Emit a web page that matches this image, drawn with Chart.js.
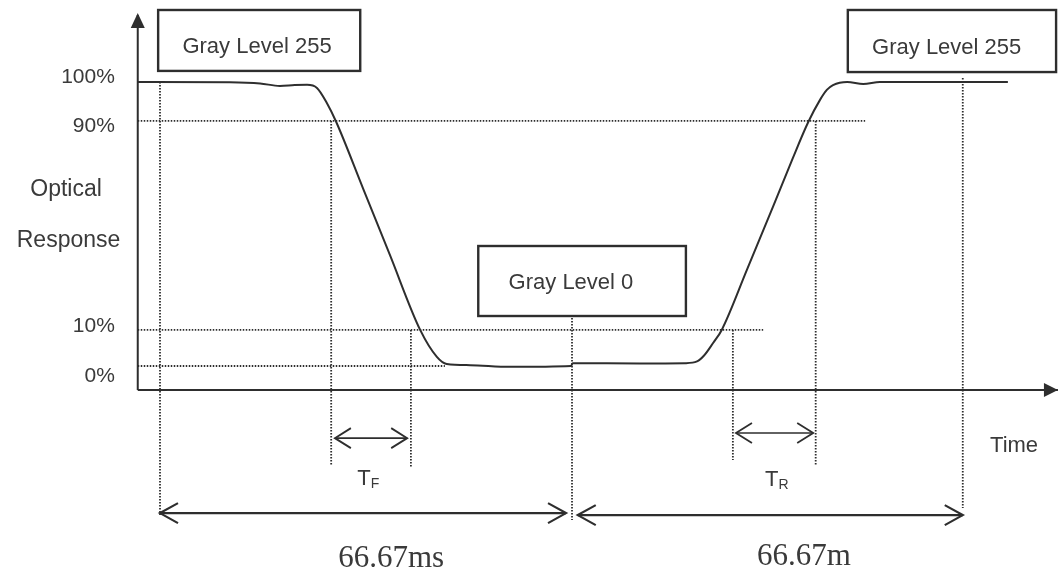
<!DOCTYPE html>
<html>
<head>
<meta charset="utf-8">
<title>Optical response time</title>
<style>
  html, body { margin: 0; padding: 0; background: #fff; }
  #wrap { width: 1058px; height: 578px; }
</style>
</head>
<body>
<div id="wrap"><canvas id="chart" width="1058" height="578"></canvas></div>
<script src="https://cdn.jsdelivr.net/npm/chart.js@4.4.0/dist/chart.umd.min.js"></script>
<script>
// optical response curve (time in ms, response in %)
const timeMs = [-3.6, 11.3, 16.2, 19.4, 21.8, 23.8, 25.4, 27.0, 28.5, 32.9, 37.2, 42.1, 44.8, 46.4, 50.2, 56.6, 66.5,
  66.8, 77.7, 85.0, 86.9, 88.0, 89.5, 90.9, 95.0, 99.2, 102.4, 104.9, 106.8, 107.9, 108.9, 111.2, 113.8, 116.5, 137.2];
const response = [100, 99.9, 99.5, 98.6, 98.9, 99.0, 97.9, 92.6, 86.0, 62.3, 39.1, 12.7, 3.2, 0.7, 0.3, -0.3, 0,
  1.0, 0.9, 1.0, 1.6, 3.6, 8.1, 12.7, 34.0, 56.1, 73.2, 85.9, 93.7, 97.2, 98.9, 100, 99.3, 100, 100];

// axes
const axisTime = -3.6; // where the response axis stands
const axisLevel = -8.45; // where the time axis runs
const axisTop = 123.6;
const axisEnd = 145.3;

// level guide lines
const levelNames = ['100%', '90%', '10%', '0%'];
const levelValues = [100, 86.3, 12.7, 0];
const levelLineEnds = [null, 114.1, 97.6, 46.1];
const levelLabelValues = [101.8, 84.3, 13.9, -3.7];

// vertical guide lines
const markerTimes = [0, 27.7, 40.6, 66.67, 92.7, 106.1, 129.9];
const markerTops = [100, 86.3, 12.7, 16.9, 12.7, 86.3, 101.4];
const markerBottoms = [-52.5, -34.9, -35.9, -54.2, -33.1, -34.9, -50];

// dimension arrows
const spanNames = ['T|F', 'T|R', '66.67ms', '66.67m'];
const spanStarts = [28.3, 93.2, 0, 67.6];
const spanEnds = [40.0, 105.7, 65.7, 129.9];
const spanLevels = [-25.4, -23.6, -51.8, -52.5];
const spanLabelTimes = [33.7, 99.8, 37.4, 104.2];
const spanLabelLevels = [-39.8, -40.1, -67.9, -67.3];

// gray level boxes
const boxNames = ['Gray Level 255', 'Gray Level 0', 'Gray Level 255'];
const boxStarts = [-0.3, 51.5, 111.3];
const boxEnds = [32.4, 85.1, 145.0];
const boxTops = [125.35, 42.25, 125.35];
const boxBottoms = [103.9, 17.6, 103.5];
const boxLabelTimes = [15.7, 66.5, 127.3];
const boxLabelLevels = [112.3, 29.2, 112.0];

const ink = '#2e2e2e';
const textInk = '#3a3a3a';
const sans = '"Liberation Sans", Arial, sans-serif';
const serif = '"Liberation Serif", "Times New Roman", serif';

function seg(x1, y1, x2, y2, width, dash) {
  return {
    data: [{ x: x1, y: y1 }, { x: x2, y: y2 }],
    showLine: true,
    borderColor: ink,
    borderWidth: width,
    borderDash: dash || [],
    pointRadius: 0,
    tension: 0
  };
}

const datasets = [];
datasets.push({
  data: timeMs.map((t, i) => ({ x: t, y: response[i] })),
  showLine: true,
  borderColor: ink,
  borderWidth: 2,
  pointRadius: 0,
  cubicInterpolationMode: 'monotone'
});
datasets.push(seg(axisTime, axisLevel, axisTime, axisTop, 2));
datasets.push(seg(axisTime, axisLevel, axisEnd, axisLevel, 2));
levelValues.forEach((v, i) => {
  if (levelLineEnds[i] !== null) datasets.push(seg(axisTime, v, levelLineEnds[i], v, 1.8, [1.5, 1.5]));
});
markerTimes.forEach((t, i) => {
  datasets.push(seg(t, markerTops[i], t, markerBottoms[i], 1.8, [1.5, 1.5]));
});
spanStarts.forEach((s, i) => {
  datasets.push(seg(s, spanLevels[i], spanEnds[i], spanLevels[i], i < 2 ? 1.6 : 2.2));
});

function chevron(ctx, px, py, dir, len, half) {
  ctx.beginPath();
  ctx.moveTo(px - dir * len, py - half);
  ctx.lineTo(px, py);
  ctx.lineTo(px - dir * len, py + half);
  ctx.stroke();
}

const diagramPlugin = {
  id: 'diagram',
  afterDatasetsDraw(chart) {
    const { ctx } = chart;
    const X = (v) => chart.scales.x.getPixelForValue(v);
    const Y = (v) => chart.scales.y.getPixelForValue(v);
    ctx.save();

    // axis arrow heads
    ctx.fillStyle = ink;
    ctx.beginPath();
    ctx.moveTo(X(axisTime), Y(axisTop) - 2);
    ctx.lineTo(X(axisTime) - 7, Y(axisTop) + 13);
    ctx.lineTo(X(axisTime) + 7, Y(axisTop) + 13);
    ctx.closePath();
    ctx.fill();
    ctx.beginPath();
    ctx.moveTo(X(axisEnd), Y(axisLevel));
    ctx.lineTo(X(axisEnd) - 14, Y(axisLevel) - 7);
    ctx.lineTo(X(axisEnd) - 14, Y(axisLevel) + 7);
    ctx.closePath();
    ctx.fill();

    // dimension arrow heads
    ctx.strokeStyle = ink;
    spanStarts.forEach((s, i) => {
      const big = i >= 2;
      ctx.lineWidth = big ? 2.2 : 1.8;
      const len = big ? 18 : 16;
      chevron(ctx, X(s), Y(spanLevels[i]), -1, len, 10);
      chevron(ctx, X(spanEnds[i]), Y(spanLevels[i]), 1, len, 10);
    });

    // gray level boxes
    ctx.lineWidth = 2.4;
    boxNames.forEach((name, i) => {
      const x1 = X(boxStarts[i]);
      const y1 = Y(boxTops[i]);
      ctx.strokeRect(x1, y1, X(boxEnds[i]) - x1, Y(boxBottoms[i]) - y1);
      ctx.fillStyle = textInk;
      ctx.font = '22px ' + sans;
      ctx.textAlign = 'center';
      ctx.textBaseline = 'middle';
      ctx.fillText(name, X(boxLabelTimes[i]), Y(boxLabelLevels[i]));
    });

    // level labels
    ctx.fillStyle = textInk;
    ctx.font = '21px ' + sans;
    ctx.textAlign = 'right';
    ctx.textBaseline = 'middle';
    levelNames.forEach((name, i) => {
      ctx.fillText(name, X(-7.3), Y(levelLabelValues[i]));
    });

    // axis titles
    ctx.font = '23px ' + sans;
    ctx.textAlign = 'center';
    ctx.fillText('Optical', X(-15.2), Y(62.0));
    ctx.fillText('Response', X(-14.8), Y(44.0));
    ctx.font = '22px ' + sans;
    ctx.fillText('Time', X(138.2), Y(-28.2));

    // span labels
    spanNames.forEach((name, i) => {
      const cx = X(spanLabelTimes[i]);
      const cy = Y(spanLabelLevels[i]);
      if (name.indexOf('|') >= 0) {
        const parts = name.split('|');
        ctx.font = '22px ' + sans;
        const w1 = ctx.measureText(parts[0]).width;
        ctx.font = '14px ' + sans;
        const w2 = ctx.measureText(parts[1]).width;
        const left = cx - (w1 + w2) / 2;
        ctx.textAlign = 'left';
        ctx.font = '22px ' + sans;
        ctx.fillText(parts[0], left, cy);
        ctx.font = '14px ' + sans;
        ctx.fillText(parts[1], left + w1, cy + 5);
      } else {
        ctx.textAlign = 'center';
        ctx.font = '31px ' + serif;
        ctx.fillText(name, cx, cy);
      }
    });

    ctx.restore();
  }
};

const chart = new Chart(document.getElementById('chart'), {
  type: 'scatter',
  data: { datasets: datasets },
  options: {
    responsive: false,
    devicePixelRatio: 1,
    animation: false,
    events: [],
    layout: { padding: 0, autoPadding: false },
    plugins: { legend: { display: false }, tooltip: { enabled: false } },
    scales: {
      x: { type: 'linear', display: false, min: -25.89, max: 145.31 },
      y: { type: 'linear', display: false, min: -74.65, max: 128.87 }
    }
  },
  plugins: [diagramPlugin]
});
</script>
</body>
</html>
